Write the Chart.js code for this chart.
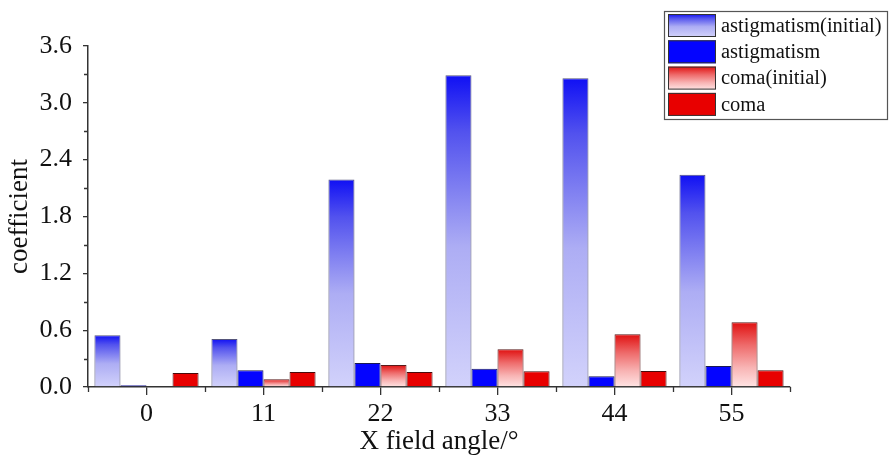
<!DOCTYPE html>
<html>
<head>
<meta charset="utf-8">
<script src="https://cdn.jsdelivr.net/npm/chart.js@4.4.1/dist/chart.umd.min.js"></script>
<style>
html,body{margin:0;padding:0;background:#fff;}
#wrap{width:890px;height:461px;position:relative;}
</style>
</head>
<body>
<div id="wrap"><canvas id="c"></canvas></div>
<script>
const categories = ['0', '11', '22', '33', '44', '55'];
const astigmatismInitial = [0.546, 0.507, 2.19, 3.29, 3.26, 2.24];
const astigmatism = [0.018, 0.176, 0.253, 0.193, 0.113, 0.222];
const comaInitial = [0.008, 0.081, 0.232, 0.398, 0.556, 0.683];
const coma = [0.148, 0.158, 0.158, 0.166, 0.169, 0.176];
const seriesLabels = ['astigmatism(initial)', 'astigmatism', 'coma(initial)', 'coma'];
const xTitle = 'X field angle/°';
const yTitle = 'coefficient';

const FONT = "'Liberation Serif', 'Times New Roman', serif";
const BLUE_STOPS = [[0, '#1010f4'], [0.18, '#5252ee'], [0.55, '#adadf4'], [1, '#d2d2fb']];
const RED_STOPS = [[0, '#e01010'], [0.35, '#ee6a6a'], [0.7, '#f8b4b4'], [1, '#ffe4e4']];

function makeGrad(ctx, y0, y1, stops) {
  const g = ctx.createLinearGradient(0, y0, 0, y1);
  stops.forEach(s => g.addColorStop(s[0], s[1]));
  return g;
}
function barGradient(stops, fallback) {
  return function (context) {
    const chart = context.chart;
    if (!chart.chartArea || context.type !== 'data') return fallback;
    const ys = chart.scales.y;
    const top = ys.getPixelForValue(context.raw);
    const bottom = ys.getPixelForValue(0);
    if (!(bottom - top > 0.5)) return stops[stops.length - 1][1];
    return makeGrad(chart.ctx, top, bottom, stops);
  };
}

const minorTicks = {
  id: 'minorTicks',
  afterDraw(chart) {
    const ctx = chart.ctx;
    const xs = chart.scales.x, ys = chart.scales.y;
    const yb = ys.getPixelForValue(0);
    const xl = xs.left;
    ctx.save();
    ctx.strokeStyle = '#333';
    ctx.lineWidth = 1.3;
    ctx.beginPath();
    for (let i = 0; i <= categories.length; i++) {
      const x = Math.round(xs.getPixelForValue(i - 0.5)) + 0.5;
      ctx.moveTo(x, yb);
      ctx.lineTo(x, yb + 5);
    }
    for (let v = 0.3; v < 3.6; v += 0.6) {
      const y = Math.round(ys.getPixelForValue(v)) + 0.5;
      ctx.moveTo(xl, y);
      ctx.lineTo(xl - 4, y);
    }
    ctx.stroke();
    ctx.restore();
  }
};

const boxLegend = {
  id: 'boxLegend',
  afterDraw(chart) {
    const ctx = chart.ctx;
    const bx = 664.5, by = 11.5, bw = 223, bh = 108;
    ctx.save();
    ctx.strokeStyle = '#555';
    ctx.lineWidth = 1.2;
    ctx.strokeRect(bx, by, bw, bh);
    const rowH = 26.3;
    chart.data.datasets.forEach((ds, i) => {
      const sx = 668, sy = 14 + i * rowH, sw = 48, sh = 23;
      let fill;
      if (i === 0) fill = makeGrad(ctx, sy, sy + sh, BLUE_STOPS);
      else if (i === 2) fill = makeGrad(ctx, sy, sy + sh, RED_STOPS);
      else fill = ds.legendColor;
      ctx.fillStyle = fill;
      ctx.fillRect(sx, sy, sw, sh);
      ctx.strokeStyle = '#333';
      ctx.lineWidth = 1;
      ctx.strokeRect(sx + 0.5, sy + 0.5, sw - 1, sh - 1);
      ctx.fillStyle = '#111';
      ctx.font = '20.5px ' + FONT;
      ctx.textBaseline = 'middle';
      ctx.textAlign = 'left';
      ctx.fillText(ds.label, 721, sy + sh / 2 + 1);
    });
    ctx.restore();
  }
};

new Chart(document.getElementById('c'), {
  type: 'bar',
  data: {
    labels: categories,
    datasets: [
      { label: seriesLabels[0], data: astigmatismInitial, backgroundColor: barGradient(BLUE_STOPS, '#8888f0'), borderColor: '#55557a', borderWidth: 1, legendColor: '#8888f0' },
      { label: seriesLabels[1], data: astigmatism, backgroundColor: '#0404ff', borderColor: '#1a1a55', borderWidth: 1, legendColor: '#0404ff' },
      { label: seriesLabels[2], data: comaInitial, backgroundColor: barGradient(RED_STOPS, '#f08080'), borderColor: '#5a1a1a', borderWidth: 1, legendColor: '#f08080' },
      { label: seriesLabels[3], data: coma, backgroundColor: '#e80000', borderColor: '#4a0a0a', borderWidth: 1, legendColor: '#e80000' }
    ]
  },
  options: {
    responsive: true,
    maintainAspectRatio: false,
    animation: false,
    events: [],
    layout: { padding: { top: 46, right: 100, left: 0, bottom: 0 } },
    datasets: { bar: { categoryPercentage: 0.89, barPercentage: 1.0 } },
    plugins: { legend: { display: false }, tooltip: { enabled: false } },
    scales: {
      x: {
        offset: true,
        grid: { display: true, offset: false, drawOnChartArea: false, drawTicks: true, tickLength: 8, color: '#333', lineWidth: 1.3 },
        border: { display: true, color: '#333', width: 1.5 },
        ticks: { color: '#111', font: { family: FONT, size: 26 }, padding: 4, maxRotation: 0 },
        title: { display: true, text: xTitle, color: '#111', font: { family: FONT, size: 27 }, padding: { top: 0, bottom: 3 } },
        afterFit(s) { s.height = 74; }
      },
      y: {
        min: 0, max: 3.6,
        grid: { display: true, drawOnChartArea: false, drawTicks: true, tickLength: 5, color: '#333', lineWidth: 1.3 },
        border: { display: true, color: '#333', width: 1.5 },
        ticks: { stepSize: 0.6, color: '#111', font: { family: FONT, size: 26 }, padding: 11, callback: v => Number(v).toFixed(1) },
        title: { display: true, text: yTitle, color: '#111', font: { family: FONT, size: 27 }, padding: { top: 4, bottom: 0 } },
        afterFit(s) { s.width = 88; }
      }
    }
  },
  plugins: [minorTicks, boxLegend]
});
</script>
</body>
</html>
